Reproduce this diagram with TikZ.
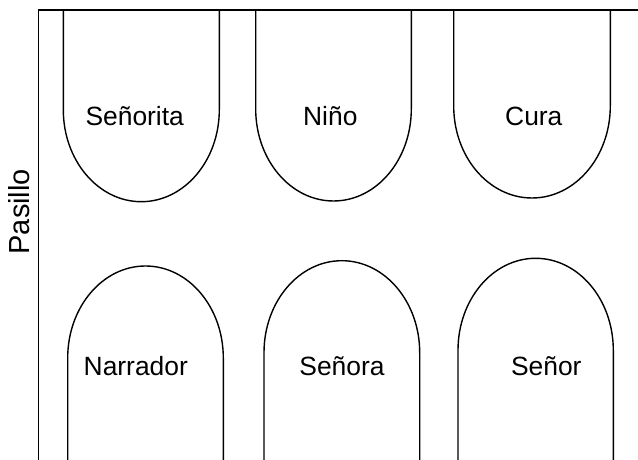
\documentclass[tikz,border=0pt]{standalone}
\usepackage{fontspec}
\setmainfont{Liberation Sans}
\usetikzlibrary{positioning}

\begin{document}
\begin{tikzpicture}[
  x=0.5pt, y=0.5pt,
  wall/.style={line width=0.8pt},
  seat/.style={line width=0.7pt},
  lbl/.style={font=\fontsize{13.2}{15}\selectfont, inner sep=0pt, anchor=base},
  hall/.style={font=\fontsize{14.5}{17}\selectfont, inner sep=0pt, anchor=base, rotate=90}
]
  \useasboundingbox (0,0) rectangle (638,460);

  % pasillo y pared
  \draw[wall] (38.5,0) -- (38.5,450) -- (638,450);
  \node[hall] (pasillo) at (29,248.3) {Pasillo};

  % fila de arriba
  \draw[seat] (63.3,450) -- (63.3,350.3)
    arc[start angle=180, end angle=360, x radius=78, y radius=92] -- (219.3,450);
  \draw[seat] (255.7,450) -- (255.7,351)
    arc[start angle=180, end angle=360, x radius=77.8, y radius=92] -- (411.3,450);
  \draw[seat] (453.7,450) -- (453.7,354)
    arc[start angle=180, end angle=360, x radius=78.3, y radius=92] -- (610.3,450);

  \node[lbl] (senorita) at (134.7,334) {Señorita};
  \node[lbl] (nino) at (330.3,334) {Niño};
  \node[lbl] (cura) at (533.8,334) {Cura};

  % fila de abajo
  \draw[seat] (67.7,0) -- (67.7,102)
    arc[start angle=180, end angle=0, x radius=77.8, y radius=92] -- (223.3,0);
  \draw[seat] (264,0) -- (264,107.3)
    arc[start angle=180, end angle=0, x radius=77.85, y radius=92] -- (419.7,0);
  \draw[seat] (458,0) -- (458,109.7)
    arc[start angle=180, end angle=0, x radius=77.65, y radius=92] -- (613.3,0);

  \node[lbl] (narrador) at (135.8,84) {Narrador};
  \node[lbl] (senora) at (342,84) {Señora};
  \node[lbl] (senor) at (546.3,84) {Señor};
\end{tikzpicture}
\end{document}
